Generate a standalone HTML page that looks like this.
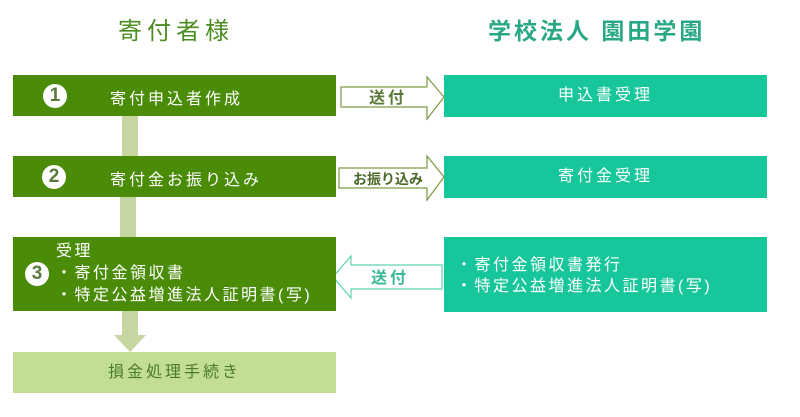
<!DOCTYPE html>
<html><head><meta charset="utf-8"><style>
body{margin:0;width:800px;height:417px;background:#fff;position:relative;overflow:hidden;font-family:"Liberation Sans","Noto Sans CJK JP",sans-serif}
.a{position:absolute}
.g{background:#4a8c08;color:#fff;font-size:16px;letter-spacing:3px}
.t{background:#17c69b;color:#fff;font-size:16px;letter-spacing:3px;text-align:center}
.c{position:absolute;width:24px;height:24px;border-radius:50%;background:#fff;color:#5a7a3a;font-weight:bold;font-size:19px;line-height:24px;text-align:center;letter-spacing:0}
</style></head><body>
<div class="a" style="left:118px;top:11px;font-size:24px;color:#4c8c20;letter-spacing:5px">寄付者様</div>
<div class="a" style="left:488px;top:12px;font-size:23px;color:#2aa886;font-weight:bold;letter-spacing:3px">学校法人 園田学園</div>

<div class="a" style="left:122px;top:116px;width:16px;height:40px;background:#c5d6a0"></div>
<div class="a" style="left:120px;top:197px;width:16px;height:40px;background:#c5d6a0"></div>
<div class="a" style="left:122px;top:311px;width:16px;height:26px;background:#c5d6a0"></div>
<svg class="a" style="left:0;top:0" width="800" height="417">
<polygon points="114,335 146,335 130,352" fill="#c5d6a0"/>
<polygon points="341,87 427,87 427,77 444,97 427,119 427,107 341,107" fill="#fff" stroke="#7a9a40" stroke-width="1.2"/>
<polygon points="339,168 427,168 427,156 444,177 427,200 427,188 339,188" fill="#fff" stroke="#7a9a40" stroke-width="1.2"/>
<polygon points="442,265 351,265 351,256 333,277 351,298 351,289 442,289" fill="#fff" stroke="#60d0b0" stroke-width="1.2"/>
<text x="388" y="103" font-size="16" font-weight="bold" fill="#5a7a3a" text-anchor="middle" letter-spacing="3" font-family="Liberation Sans,Noto Sans CJK JP,sans-serif">送付</text>
<text x="388" y="184" font-size="14" font-weight="bold" fill="#4a6a2a" text-anchor="middle" font-family="Liberation Sans,Noto Sans CJK JP,sans-serif">お振り込み</text>
<text x="390" y="283" font-size="16" font-weight="bold" fill="#3ab898" text-anchor="middle" letter-spacing="3" font-family="Liberation Sans,Noto Sans CJK JP,sans-serif">送付</text>
</svg>

<div class="a g" style="left:13px;top:75px;width:323px;height:41px">
<div class="c" style="left:30px;top:9px">1</div>
<div class="a" style="left:97px;top:10px">寄付申込者作成</div></div>
<div class="a g" style="left:13px;top:156px;width:323px;height:41px">
<div class="c" style="left:29px;top:9px">2</div>
<div class="a" style="left:97px;top:10px">寄付金お振り込み</div></div>
<div class="a g" style="left:13px;top:237px;width:323px;height:74px">
<div class="c" style="left:12px;top:25px">3</div>
<div class="a" style="left:43px;top:4px;line-height:22px;letter-spacing:2.5px">受理<br>・寄付金領収書<br>・特定公益増進法人証明書(写)</div></div>
<div class="a" style="left:13px;top:352px;width:323px;height:41px;background:#c2de96;color:#4a7a2a;font-size:16px;letter-spacing:3px;text-align:center;line-height:41px">損金処理手続き</div>

<div class="a t" style="left:444px;top:75px;width:323px;height:42px;line-height:42px">申込書受理</div>
<div class="a t" style="left:444px;top:156px;width:323px;height:42px;line-height:42px">寄付金受理</div>
<div class="a t" style="left:444px;top:237px;width:323px;height:75px;text-align:left">
<div class="a" style="left:12px;top:18px;line-height:21px;letter-spacing:2.5px">・寄付金領収書発行<br>・特定公益増進法人証明書(写)</div></div>
</body></html>
